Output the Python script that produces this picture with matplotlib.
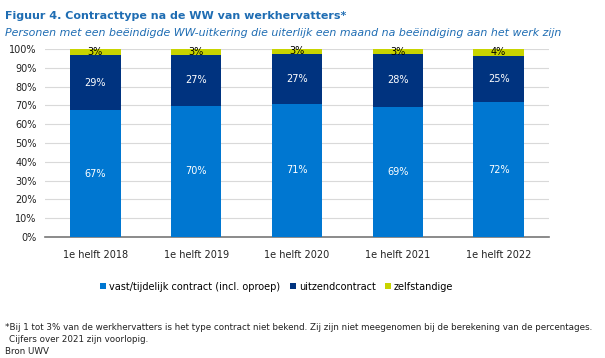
import numpy as np
import matplotlib
matplotlib.use('Agg')
import matplotlib.pyplot as plt

periods = ['1e helft 2018', '1e helft 2019', '1e helft 2020', '1e helft 2021', '1e helft 2022']
vast = [67.4, 69.7, 70.9, 69.3, 71.8]
uitzend = [29.4, 27.3, 26.6, 28.0, 24.6]
zelf = [3.2, 3.0, 2.5, 2.7, 3.6]
series_names = ['vast/tijdelijk contract (incl. oproep)', 'uitzendcontract', 'zelfstandige']
colors = ['#0077D1', '#00337F', '#C8D400']

plt.rcParams['font.family'] = 'DejaVu Sans'

fig = plt.figure(figsize=(6.05, 3.58), dpi=100)
ax = fig.add_axes([45/605, 1 - 237/358, 504/605, 188/358])

x = np.arange(len(periods))
bottom = np.zeros(len(periods))
for vals, name, col in zip([vast, uitzend, zelf], series_names, colors):
    vals = np.array(vals)
    ax.bar(x, vals, 0.5, bottom=bottom, color=col, label=name, zorder=3)
    for xi, b, v in zip(x, bottom, vals):
        tc = 'black' if col == '#C8D400' else 'white'
        ax.text(xi, b + v / 2, '%d%%' % int(v + 0.5), ha='center', va='center',
                color=tc, fontsize=7, zorder=4)
    bottom += vals

ax.set_xlim(-0.5, len(periods) - 0.5)
ax.set_ylim(0, 100)
ax.set_yticks(np.arange(0, 101, 10))
ax.set_yticklabels(['%d%%' % v for v in range(0, 101, 10)], fontsize=7, color='#222222')
ax.set_xticks(x)
ax.set_xticklabels(periods, fontsize=7, color='#222222')
ax.tick_params(axis='y', length=0, pad=6)
ax.tick_params(axis='x', length=0, pad=9)
ax.grid(axis='y', color='#d9d9d9', linewidth=0.8, zorder=0)
for s in ['top', 'right', 'left']:
    ax.spines[s].set_visible(False)
ax.spines['bottom'].set_color('#777777')
ax.spines['bottom'].set_linewidth(1.2)

ax.legend(loc='center', bbox_to_anchor=(0.46, -0.265), ncol=3, frameon=False,
          fontsize=7, handlelength=0.6, handleheight=0.6, handletextpad=0.3,
          columnspacing=1.0)

fig.text(5/605, 1 - 16/358, 'Figuur 4. Contracttype na de WW van werkhervatters*',
         fontsize=8.0, fontweight='bold', color='#1F6DB3', va='center')
fig.text(5/605, 1 - 33/358, 'Personen met een beëindigde WW-uitkering die uiterlijk een maand na beëindiging aan het werk zijn',
         fontsize=7.9, style='italic', color='#1F6DB3', va='center')

fig.text(5/605, 1 - 327/358, '*Bij 1 tot 3% van de werkhervatters is het type contract niet bekend. Zij zijn niet meegenomen bij de berekening van de percentages.',
         fontsize=6.3, color='#222222', va='center')
fig.text(9/605, 1 - 339/358, 'Cijfers over 2021 zijn voorlopig.', fontsize=6.3, color='#222222', va='center')
fig.text(5/605, 1 - 351/358, 'Bron UWV', fontsize=6.3, color='#222222', va='center')

fig.savefig('out.png', dpi=100)
